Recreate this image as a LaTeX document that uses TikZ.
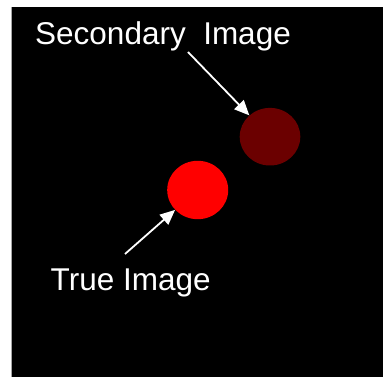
\documentclass[tikz,border=0pt]{standalone}
\usepackage{fontspec}
\setmainfont{Liberation Sans}
\usetikzlibrary{arrows.meta,shapes.geometric}
\definecolor{darkred}{RGB}{107,0,0}
\begin{document}
\begin{tikzpicture}[x=1pt,y=1pt,
  lbl/.style={text=white,font=\fontsize{31.5}{37}\selectfont,inner sep=0pt,anchor=base west},
  spot/.style={ellipse,inner sep=0pt,draw=none},
  pointer/.style={draw=white,line width=1.8pt,-{Triangle[length=15pt,width=13pt]}}]
\useasboundingbox (0,0) rectangle (383,377);
\fill[black] (11,0) rectangle (383,370);
\draw[gray!70,line width=0.6pt] (11.3,0) -- (11.3,370);
\node[spot,fill=darkred,minimum width=60.6pt,minimum height=57.6pt] (sec) at (270,240.3) {};
\node[spot,fill=red,minimum width=61pt,minimum height=58.4pt] (true) at (197.7,187) {};
\node[lbl] (seclbl) at (35,332) {Secondary\ \ Image};
\node[lbl] (truelbl) at (50.5,86) {True Image};
\coordinate (s1) at (188,325);
\coordinate (t1) at (125,123);
\draw[pointer] (s1) -- (sec);
\draw[pointer] (t1) -- (true);
\end{tikzpicture}
\end{document}
